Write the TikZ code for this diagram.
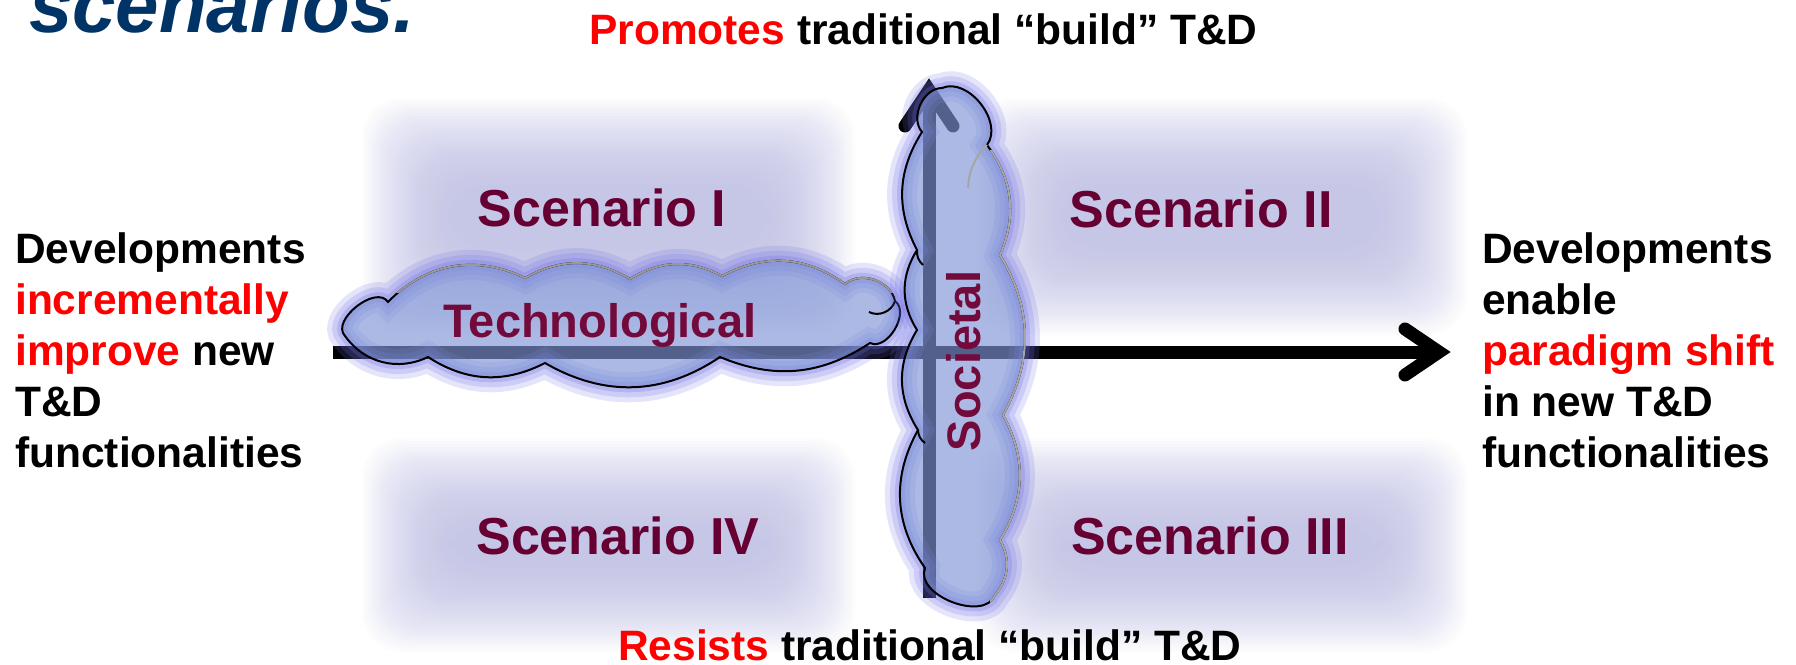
\documentclass[tikz,border=0pt]{standalone}
\usepackage{fontspec}
\setmainfont{Liberation Sans}
\usetikzlibrary{calc}
\definecolor{titleblue}{RGB}{0,51,102}
\definecolor{tdred}{RGB}{255,0,0}
\definecolor{scencol}{RGB}{102,0,51}
\definecolor{techcol}{RGB}{115,10,60}
\definecolor{glowlav}{RGB}{186,186,231}
\definecolor{cloudfill}{RGB}{128,149,214}
\definecolor{cloudglow}{RGB}{110,110,230}
\def\techpath{(388,302) to[bend left=36] (525,278) to[bend left=30] (630,279) to[bend left=30] (722,276) to[bend left=32] (845,284) to[bend left=60] (895,301) to[bend left=85] (870,343) to[bend left=28] (720,357) to[bend left=32] (545,363) to[bend left=30] (428,357) to[bend left=40] (345,336) to[bend left=95] (388,302) -- cycle}
\def\socpath{(925,568) to[bend left=32] (918,430) to[bend left=32] (917,330) to[bend left=32] (917,250) to[bend left=30] (922,132) to[bend left=65] (942,88) to[bend left=75] (987,145) to[bend left=30] (1000,255) to[bend left=30] (1003,415) to[bend left=30] (1000,540) to[bend left=35] (995,595) to[bend left=90] (925,568) -- cycle}
\begin{document}
\begin{tikzpicture}[x=1pt,y=-1pt,
  txt/.style={inner sep=0pt, anchor=base west, font=\fontsize{42.5}{51}\selectfont\bfseries},
  scen/.style={inner sep=0pt, anchor=base, text=scencol, font=\fontsize{52}{60}\selectfont\bfseries},
  lbl/.style={inner sep=0pt, anchor=base, text=techcol, font=\fontsize{47}{55}\selectfont\bfseries},
  cloudbody/.style={draw=black, line width=2pt, fill=cloudfill, fill opacity=0.65,
                 preaction={draw=cloudglow, line width=30pt, draw opacity=0.18},
                 preaction={draw=cloudglow, line width=20pt, draw opacity=0.2},
                 preaction={draw=cloudglow, line width=10pt, draw opacity=0.25}},
  hook/.style={draw=black, line width=2pt},
  shaft/.style={line width=13pt, draw=black},
  barb/.style={line width=13pt, draw=black, line cap=round, line join=miter},
]
\useasboundingbox (0,0) rectangle (1796,664);
\fill[white] (0,0) rectangle (1796,664);

% soft lavender fields behind the scenarios
\foreach \xa/\ya/\xb/\yb in {362/98/855/335, 975/98/1467/335, 362/438/855/652, 975/438/1467/652}{
  \foreach \k in {0,...,29}{
    \fill[glowlav, opacity=0.042, rounded corners=40pt] ({\xa+\k*3},{\ya+\k*3}) rectangle ({\xb-\k*3},{\yb-\k*3});
  }
}

% axes
\coordinate (hs) at (333,352);
\coordinate (he) at (1439,352);
\coordinate (vs) at (929,598);
\coordinate (ve) at (929,90);
\draw[shaft] (hs) -- (he);
\draw[barb] ($(he)+(-34,-23)$) -- (he) -- ($(he)+(-34,23)$);
\draw[shaft] (vs) -- (ve);
\draw[barb] ($(ve)+(-24,36)$) -- (ve) -- ($(ve)+(24,36)$);

% clouds
\path[cloudbody] \techpath;
\begin{scope}
  \clip (300,200) rectangle (930,292);
  \draw[line width=2pt, draw=gray!80] \techpath;
\end{scope}
\draw[hook] (895,301) to[bend left=50] (869,312);
\path[cloudbody] \socpath;
\begin{scope}
  \clip (990,150) rectangle (1040,620);
  \draw[line width=2pt, draw=gray!70] \socpath;
\end{scope}
\draw[hook, draw=gray!70] (987,145) to[bend right=20] (968,188);
\draw[hook] (917,250) to[bend right=25] (923,265);
\draw[hook] (918,430) to[bend right=25] (925,443);

% cloud labels
\node[lbl] (techl) at (600,337) {Technological};
\node[lbl, rotate=90] (socl) at (980,361) {Societal};

% scenarios
\node[scen] (s1) at (602,226) {Scenario I};
\node[scen] (s2) at (1201,227) {Scenario II};
\node[scen] (s4) at (618,554) {Scenario IV};
\node[scen] (s3) at (1210,554) {Scenario III};

% title fragment
\node[inner sep=0pt, anchor=base west, text=titleblue,
      font=\fontsize{78}{90}\selectfont\bfseries\itshape] (title) at (29,32) {scenarios.};

% top and bottom
\node[txt] (top) at (589,44) {\textcolor{tdred}{Promotes} traditional “build” T\&D};
\node[txt] (bot) at (618,660) {\textcolor{tdred}{Resists} traditional “build” T\&D};

% left
\node[txt] (l1) at (15,263) {Developments};
\node[txt, text=tdred] (l2) at (15,314) {incrementally};
\node[txt] (l3) at (15,365) {\textcolor{tdred}{improve} new};
\node[txt] (l4) at (15,416) {T\&D};
\node[txt] (l5) at (15,467) {functionalities};

% right
\node[txt] (r1) at (1482,263) {Developments};
\node[txt] (r2) at (1482,314) {enable};
\node[txt, text=tdred] (r3) at (1482,365) {paradigm shift};
\node[txt] (r4) at (1482,416) {in new T\&D};
\node[txt] (r5) at (1482,467) {functionalities};
\end{tikzpicture}
\end{document}
